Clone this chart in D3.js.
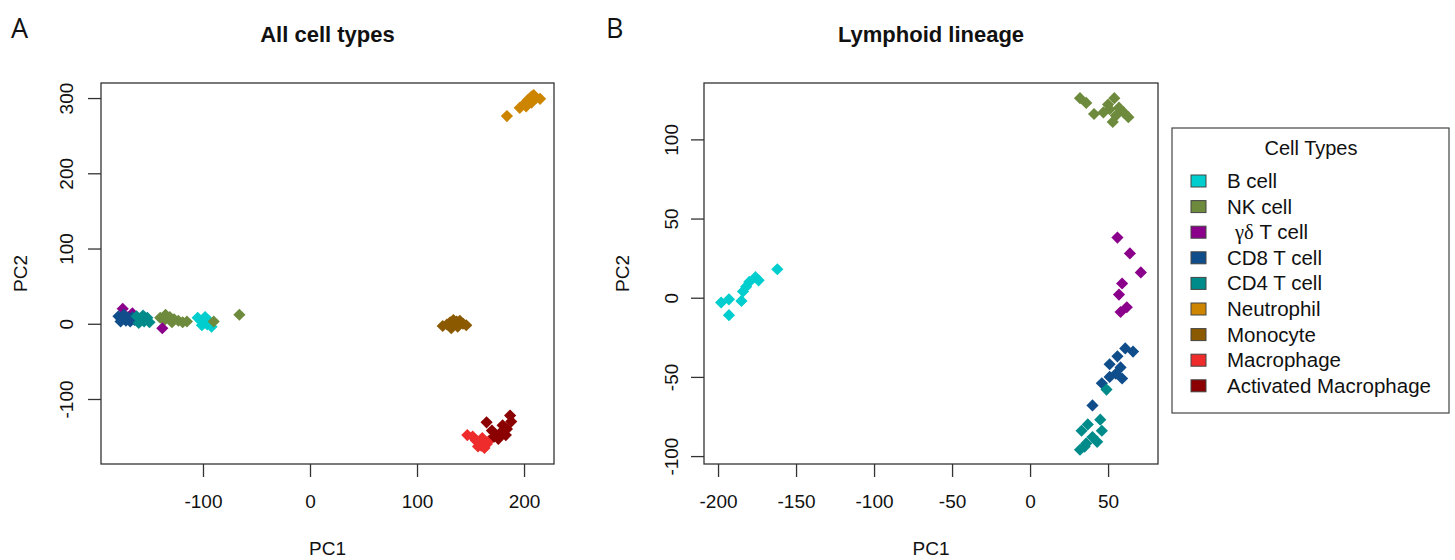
<!DOCTYPE html>
<html>
<head>
<meta charset="utf-8">
<script src="https://d3js.org/d3.v7.min.js"></script>
<style>
  body { margin:0; background:#fff; }
  text { font-family: "Liberation Sans", Arial, sans-serif; fill:#111; }
</style>
</head>
<body>
<svg id="fig" width="1455" height="560"></svg>
<script>
// legend / series metadata
const cellTypes = ["B cell", "NK cell", "γδ T cell", "CD8 T cell", "CD4 T cell",
                   "Neutrophil", "Monocyte", "Macrophage", "Activated Macrophage"];
const cellColors = ["#00CDCD", "#6E8B3D", "#8B008B", "#104E8B", "#008B8B",
                    "#CD8500", "#8B5A00", "#EE2C2C", "#8B0000"];

// panel A: all cell types, [PC1, PC2]
const aBcell  = [[-105,8],[-102,4],[-100,2],[-98,9],[-96,-1],[-94,3],[-92,-4],[-101,-2],[-97,5]];
const aNK     = [[-140,8],[-135,12],[-131,9],[-127,6],[-123,4],[-119,2],[-115,3],[-129,2],[-136,5],[-90,3],[-66,12]];
const aGD     = [[-175,20],[-166,14],[-138,-6],[-171,9]];
const aCD8    = [[-179,10],[-176,6],[-174,12],[-172,4],[-170,8],[-168,3],[-166,9],[-164,5],[-177,3]];
const aCD4    = [[-162,10],[-158,6],[-155,3],[-152,8],[-150,2],[-160,1],[-156,11]];
const aNeut   = [[184,276],[196,287],[200,292],[204,298],[207,302],[211,300],[215,299],[207,294],[202,289],[209,304]];
const aMono   = [[124,-3],[128,-1],[131,2],[134,5],[137,3],[140,4],[143,0],[146,-2],[132,-6],[138,-4]];
const aMac    = [[147,-148],[152,-150],[155,-155],[158,-158],[160,-162],[163,-165],[165,-160],[157,-163],[161,-152],[167,-156]];
const aActMac = [[165,-131],[187,-122],[180,-135],[184,-140],[178,-145],[172,-150],[176,-153],[183,-148],[188,-130],[170,-142]];

// panel B: lymphoid lineage
const bBcell = [[-162,18],[-176,13],[-174,11],[-180,10],[-182,7],[-184,4],[-185,-2],[-193,-1],[-198,-3],[-193,-11]];
const bNK    = [[32,126],[36,123],[41,116],[47,117],[50,122],[54,126],[51,119],[57,120],[60,117],[63,114],[53,111],[55,115]];
const bGD    = [[56,38],[64,28],[71,16],[59,9],[57,2],[62,-6],[58,-9]];
const bCD8   = [[61,-32],[66,-34],[56,-37],[51,-42],[55,-48],[59,-51],[51,-50],[46,-54],[58,-44],[40,-68]];
const bCD4   = [[49,-58],[45,-77],[37,-80],[46,-84],[33,-84],[40,-88],[43,-91],[36,-92],[32,-96],[35,-94]];

// axis ticks
const aXTicks = [-100, 0, 100, 200];
const aYTicks = [-100, 0, 100, 200, 300];
const bXTicks = [-200, -150, -100, -50, 0, 50];
const bYTicks = [-100, -50, 0, 50, 100];

const svg = d3.select("#fig");
const diamond = d3.symbol(d3.symbolSquare, 74);

function drawPanel(p) {
  const g = svg.append("g");
  const x = d3.scaleLinear().domain(p.xDomain).range(p.xRange);
  const y = d3.scaleLinear().domain(p.yDomain).range(p.yRange);

  // points, drawn in legend order
  p.series.forEach((pts, i) => {
    g.append("g").selectAll("path")
      .data(pts)
      .join("path")
      .attr("d", diamond)
      .attr("transform", d => `translate(${x(d[0])},${y(d[1])}) rotate(45)`)
      .attr("fill", cellColors[p.colorIdx[i]]);
  });

  const bottom = p.yRange[0], left = p.xRange[0];

  const xa = g.append("g")
    .attr("transform", `translate(0,${bottom})`)
    .call(d3.axisBottom(x).tickValues(p.xTicks).tickSize(13).tickSizeOuter(0)
      .tickPadding(18).tickFormat(d => String(d)));
  xa.select(".domain").remove();
  xa.selectAll("line").attr("stroke", "#333").attr("stroke-width", 1.3);
  xa.selectAll("text").attr("font-size", 19).attr("fill", "#111")
    .style("font-family", '"Liberation Sans", Arial, sans-serif');

  const ya = g.append("g")
    .attr("transform", `translate(${left},0)`)
    .call(d3.axisLeft(y).tickValues(p.yTicks).tickSize(13).tickSizeOuter(0)
      .tickFormat(d => String(d)));
  ya.select(".domain").remove();
  ya.selectAll("line").attr("stroke", "#333").attr("stroke-width", 1.3);
  ya.selectAll("text")
    .attr("x", null).attr("dy", null)
    .attr("text-anchor", "middle")
    .attr("transform", `translate(${p.yLabOff},0) rotate(-90)`)
    .attr("font-size", 19).attr("fill", "#111")
    .style("font-family", '"Liberation Sans", Arial, sans-serif');

  // box
  g.append("rect")
    .attr("x", p.xRange[0]).attr("y", p.yRange[1])
    .attr("width", p.xRange[1] - p.xRange[0])
    .attr("height", p.yRange[0] - p.yRange[1])
    .attr("fill", "none").attr("stroke", "#333").attr("stroke-width", 1.3);

  const cx = (p.xRange[0] + p.xRange[1]) / 2;
  const cy = (p.yRange[0] + p.yRange[1]) / 2;
  g.append("text").attr("x", cx).attr("y", 42).attr("text-anchor", "middle")
    .attr("font-size", 22).attr("font-weight", "bold").text(p.title);
  g.append("text").attr("x", cx).attr("y", 555).attr("text-anchor", "middle")
    .attr("font-size", 19).text("PC1");
  g.append("text").attr("transform", `translate(${p.pc2X},${cy}) rotate(-90)`)
    .attr("text-anchor", "middle").attr("font-size", 19).text("PC2");
  g.append("text").attr("x", p.tagX).attr("y", 38)
    .attr("font-size", 27).style("font-family", '"Open Sans", sans-serif').text(p.tag);
}

drawPanel({
  tag: "A", tagX: 11, title: "All cell types",
  xDomain: [-195.3, 228], xRange: [101, 554],
  yDomain: [-186.4, 320], yRange: [464, 83],
  xTicks: aXTicks, yTicks: aYTicks, yLabOff: -28, pc2X: 27,
  series: [aBcell, aNK, aGD, aCD8, aCD4, aNeut, aMono, aMac, aActMac],
  colorIdx: [0, 1, 2, 3, 4, 5, 6, 7, 8]
});

drawPanel({
  tag: "B", tagX: 606, title: "Lymphoid lineage",
  xDomain: [-209, 82], xRange: [704, 1158],
  yDomain: [-105, 135.6], yRange: [464, 83],
  xTicks: bXTicks, yTicks: bYTicks, yLabOff: -26, pc2X: 629,
  series: [bBcell, bNK, bGD, bCD8, bCD4],
  colorIdx: [0, 1, 2, 3, 4]
});

// legend
const lg = svg.append("g");
lg.append("rect").attr("x", 1172).attr("y", 128).attr("width", 277).attr("height", 285)
  .attr("fill", "#fff").attr("stroke", "#444").attr("stroke-width", 1.2);
lg.append("text").attr("x", 1311).attr("y", 155).attr("text-anchor", "middle")
  .attr("font-size", 20).text("Cell Types");

const items = lg.selectAll("g.item").data(cellTypes).join("g")
  .attr("class", "item")
  .attr("transform", (d, i) => `translate(0,${181 + i * 25.6})`);
items.append("rect").attr("x", 1191).attr("y", -6).attr("width", 15).attr("height", 12)
  .attr("fill", (d, i) => cellColors[i]).attr("stroke", "#444").attr("stroke-width", 1);
items.each(function(d) {
  const t = d3.select(this).append("text").attr("x", 1227).attr("y", 7).attr("font-size", 20.5);
  if (d.startsWith("γδ")) {
    t.append("tspan").attr("dx", 8).style("font-family", '"Liberation Serif", serif').text("γδ");
    t.append("tspan").text(d.slice(2));
  } else {
    t.text(d);
  }
});
</script>
</body>
</html>
